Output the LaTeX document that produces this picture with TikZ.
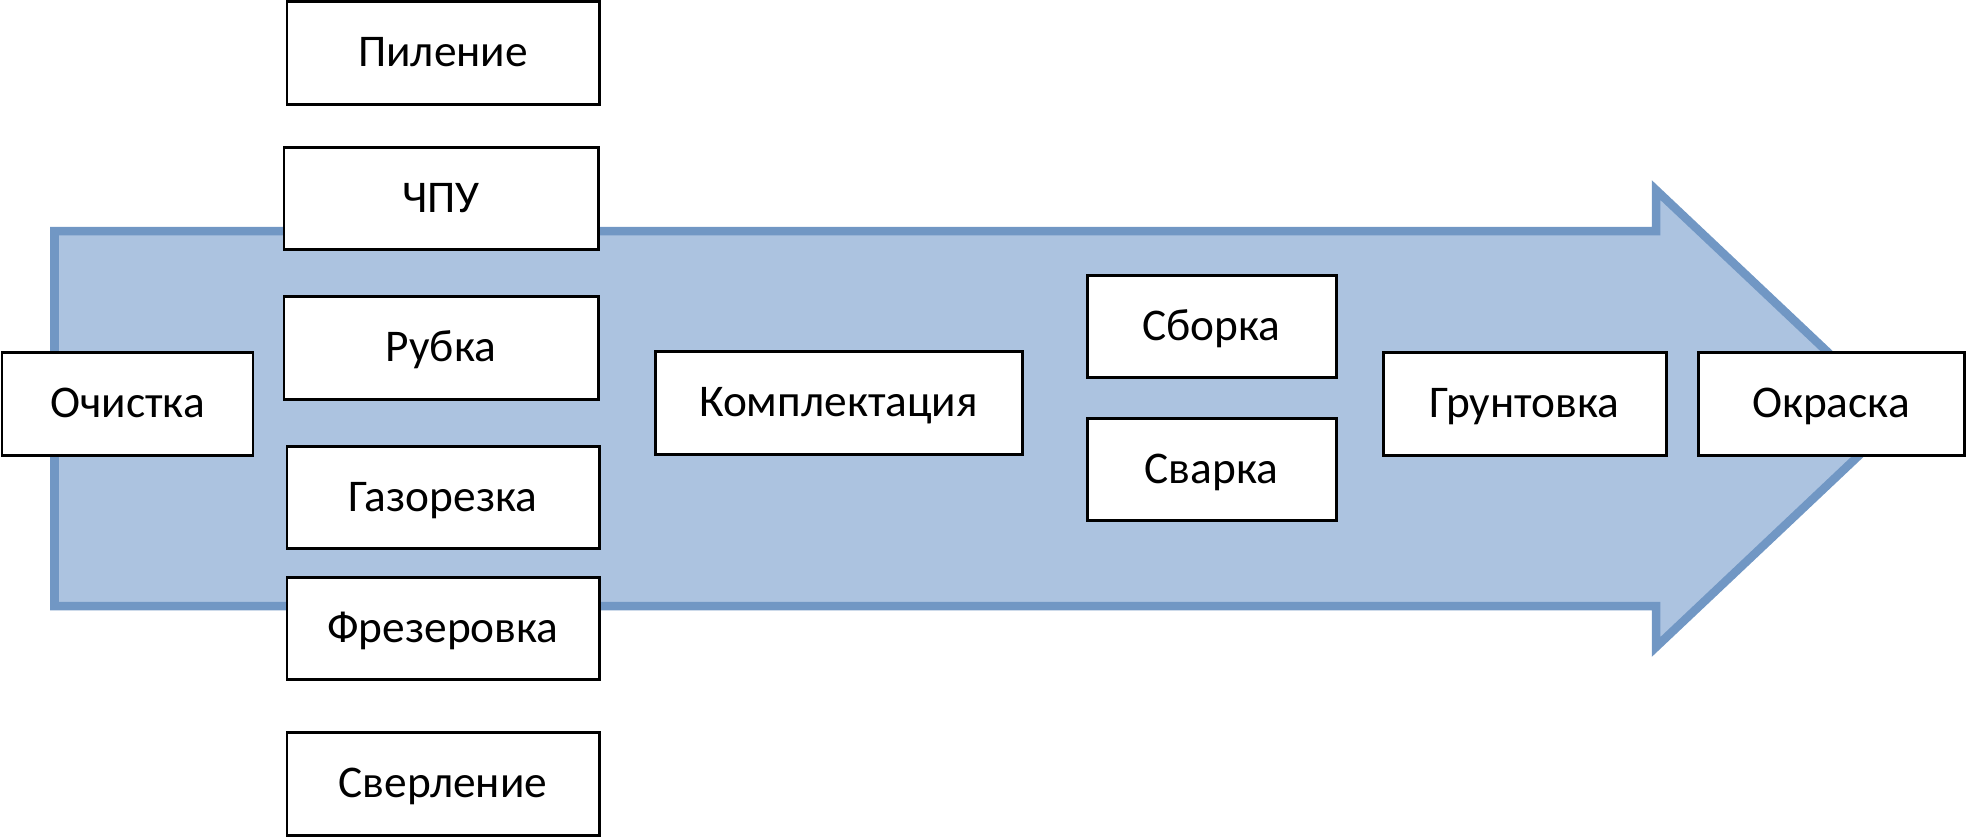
\documentclass[tikz,border=0pt]{standalone}
\usepackage{fontspec}
\setmainfont{Carlito}
\definecolor{arrowfill}{RGB}{172,195,224}
\definecolor{arrowline}{RGB}{113,151,196}
\begin{document}
\begin{tikzpicture}[x=0.01cm,y=-0.01cm,
  box/.style={draw=black, fill=white, line width=0.85pt, rectangle, inner sep=0pt,
    minimum width=#1*0.01cm, minimum height=1.025cm,
    font=\fontsize{12.9}{15}\selectfont, text height=0.77em, text depth=0pt},
  box/.default=312,
  bigarrow/.style={draw=arrowline, fill=arrowfill, line width=0.085cm, line join=miter}]
\useasboundingbox (0,0) rectangle (1966,836);
\draw[bigarrow] (54.5,231) -- (1656,231) -- (1656,190) -- (1898,418.5) -- (1656,647) -- (1656,606) -- (54.5,606) -- cycle;
\node[box=312] (pil) at (443,53) {Пиление};
\node[box=314] (chpu) at (441,198.5) {ЧПУ};
\node[box=314] (rub) at (441,348) {Рубка};
\node[box=251] (och) at (127.5,404) {Очистка};
\node[box=312] (gaz) at (443,497.5) {Газорезка};
\node[box=312] (fre) at (443,628.5) {Фрезеровка};
\node[box=312] (sve) at (443,784) {Сверление};
\node[box=367] (kom) at (838.5,403) {Комплектация};
\node[box=249] (sbo) at (1211.5,326.5) {Сборка};
\node[box=249] (sva) at (1211.5,469.5) {Сварка};
\node[box=283] (gru) at (1524.5,404) {Грунтовка};
\node[box=266] (okr) at (1831,404) {Окраска};
\end{tikzpicture}
\end{document}
